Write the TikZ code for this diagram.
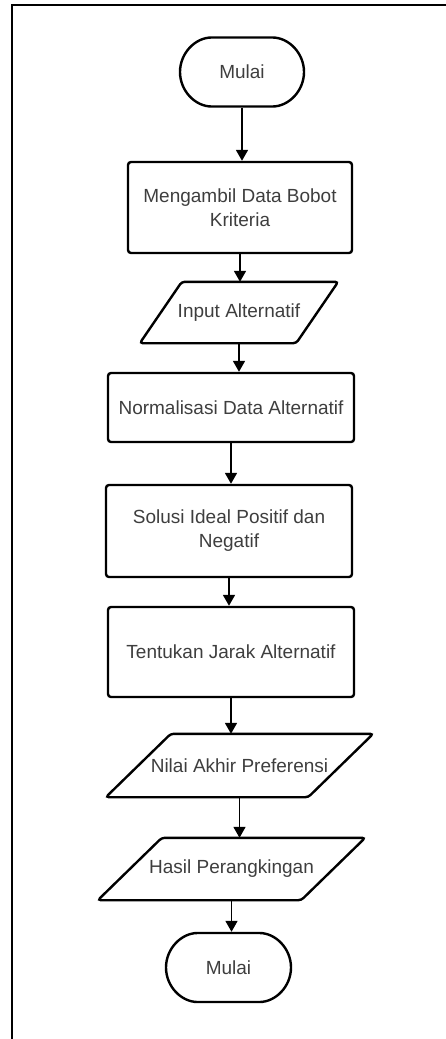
\documentclass[tikz,border=0pt]{standalone}
\usepackage{fontspec}
\setmainfont{Liberation Sans}
\usepackage{xcolor}
\usetikzlibrary{shapes.misc,arrows.meta}
\definecolor{teks}{HTML}{3E3E3E}

\begin{document}
\begin{tikzpicture}[x=1pt, y=-1pt,
	every node/.style={font=\fontsize{19}{24}\selectfont, text=teks, align=center, inner sep=0pt},
	garis/.style={line width=2.4pt, rounded corners=3pt},
	terminal/.style={draw, garis, rounded rectangle, minimum width=124pt, minimum height=69pt},
	proses/.style={draw, garis, rectangle, minimum width=246pt},
	data/.style={rectangle, minimum width=267pt},
	panah/.style={line width=1.8pt, -{Triangle[length=11pt,width=12pt]}}]
	\useasboundingbox (0,0) rectangle (446,1039);
	\draw[line width=2pt] (12,1039) -- (12,5) -- (446,5);

	\node[terminal] (mulai) at (242,72) {Mulai};
	\node[proses, minimum width=224pt, minimum height=91pt] (ambil) at (240,207.5) {Mengambil Data Bobot\\Kriteria};
	\node[data, minimum width=198pt, minimum height=61pt] (input) at (239,312.5) {Input Alternatif};
	\node[proses, minimum height=69pt] (normal) at (231,407.5) {Normalisasi Data Alternatif};
	\node[proses, minimum height=92pt] (solusi) at (229,531) {Solusi Ideal Positif dan\\Negatif};
	\node[proses, minimum height=90pt] (jarak) at (231,652) {Tentukan Jarak Alternatif};
	\node[data, minimum height=63pt] (nilai) at (239.5,765.5) {Nilai Akhir Preferensi};
	\node[data, minimum height=62pt] (hasil) at (231.5,869) {Hasil Perangkingan};
	\node[terminal, minimum width=125pt] (selesai) at (228.5,967.5) {Mulai};

	\foreach \n/\s in {input/42, nilai/65, hasil/64}
		\draw[garis] ([xshift=\s pt]\n.north west) -- (\n.north east) -- ([xshift=-\s pt]\n.south east) -- (\n.south west) -- cycle;

	\foreach \a/\b in {mulai/ambil, ambil/input, input/normal, normal/solusi, solusi/jarak, jarak/nilai, nilai/hasil, hasil/selesai}
		\draw[panah] (\a.south) -- (\a.south |- \b.north);
\end{tikzpicture}
\end{document}
